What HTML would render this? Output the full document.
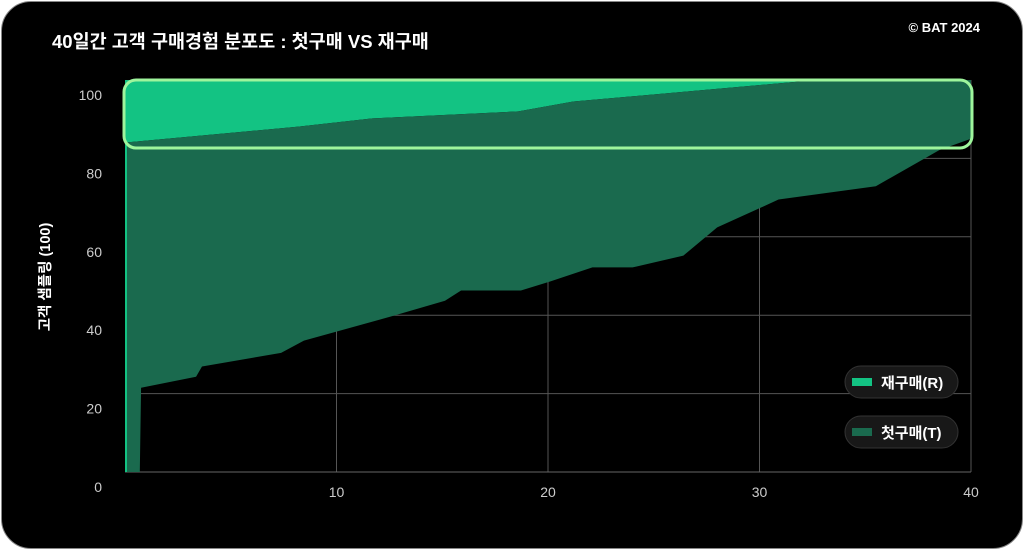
<!DOCTYPE html>
<html><head><meta charset="utf-8"><style>
html,body{margin:0;padding:0;background:#fff;width:1024px;height:550px;overflow:hidden}
#card{position:absolute;left:1px;top:1px;width:1020px;height:546px;background:#000;border:1px solid #888;border-radius:30px;overflow:hidden}
svg{position:absolute;left:0;top:0}
text{font-family:"Liberation Sans","Noto Sans CJK KR",sans-serif}
</style></head><body>
<div id="card"></div>
<svg id="chart" width="1024" height="550">
<text x="52" y="48" fill="#fff" font-size="18.5" font-weight="bold">40일간 고객 구매경험 분포도 : 첫구매 VS 재구매</text>
<text x="980" y="32" fill="#fff" font-size="13" font-weight="bold" text-anchor="end">© BAT 2024</text>
<text transform="translate(50,277) rotate(-90)" fill="#fff" font-size="14.5" font-weight="bold" text-anchor="middle">고객 샘플링 (100)</text>
<g id="grid"></g><g id="areas"></g><g id="ticks"></g>
<rect x="124" y="80" width="848" height="68" rx="12" fill="none" stroke="#9ef59c" stroke-width="3"/>
<g>
<rect x="845" y="366" width="113" height="32" rx="16" fill="#181818" stroke="#333"/>
<rect x="852" y="378" width="20" height="8" fill="#13c383"/>
<text x="881" y="388" fill="#fff" font-size="15" font-weight="bold">재구매(R)</text></g>
<g>
<rect x="845" y="416" width="113" height="32" rx="16" fill="#181818" stroke="#333"/>
<rect x="852" y="428" width="20" height="8" fill="#1a6a4e"/>
<text x="881" y="438" fill="#fff" font-size="15" font-weight="bold">첫구매(T)</text></g>
</svg>
<script>
const xTicks=[10,20,30,40];
const yTicks=[0,20,40,60,80,100];
const lowX=[0,0.7,0.76,3.36,3.64,7.38,8.46,12.53,15.13,15.89,18.72,20.1,22.1,24.0,26.4,28.0,30.9,35.5,38.5,40];
const lowY=[0,0,21.5,24.3,26.9,30.4,33.5,39.6,43.7,46.3,46.3,48.6,52.2,52.2,55.2,62.4,69.5,72.9,82.1,85];
const topX=[0,0.1,8.2,11.7,18.6,21.2,32.7,40];
const topY=[0,84.1,88.1,90.2,92,94.5,100,100];
const maxY=[100,100];const maxX=[0,40];
const X0=125,X1=971,Y0=472,Y1=80;
const sx=v=>X0+(X1-X0)*v/40, sy=v=>Y0-(Y0-Y1)*v/100;
const NS='http://www.w3.org/2000/svg';
function mk(t,a,p){const e=document.createElementNS(NS,t);for(const k in a)e.setAttribute(k,a[k]);p.appendChild(e);return e;}
const grid=document.getElementById('grid'),ticks=document.getElementById('ticks'),areas=document.getElementById('areas');
yTicks.forEach(v=>{if(v>0&&v<100){const l=mk('line',{x1:X0,x2:X1,y1:sy(v),y2:sy(v),stroke:'#555','stroke-width':1},grid);}
const t=mk('text',{x:102,y:sy(v)+20,fill:'#ccc','font-size':14,'text-anchor':'end'},ticks);t.textContent=v;});
xTicks.forEach(v=>{const l=mk('line',{x1:sx(v),x2:sx(v),y1:Y1,y2:Y0,stroke:'#555','stroke-width':1},grid);
const t=mk('text',{x:sx(v),y:497,fill:'#ccc','font-size':14,'text-anchor':'middle'},ticks);t.textContent=v;});
const b=mk('line',{x1:X0,x2:X1,y1:Y0,y2:Y0,stroke:'#666'},grid);
function pts(xs,ys){return xs.map((x,i)=>sx(x)+','+sy(ys[i]));}
const light=mk('polygon',{points:pts(maxX,maxY).concat(pts(topX,topY).reverse()).join(' '),fill:'#13c383'},areas);

const dark=mk('polygon',{points:pts(topX,topY).concat(pts(lowX,lowY).reverse()).join(' '),fill:'#1a6a4e'},areas);

const edge=mk('line',{x1:sx(0)+1,x2:sx(0)+1,y1:sy(0),y2:sy(topY[1]),stroke:'#13c383','stroke-width':2},areas);

</script>
</body></html>
